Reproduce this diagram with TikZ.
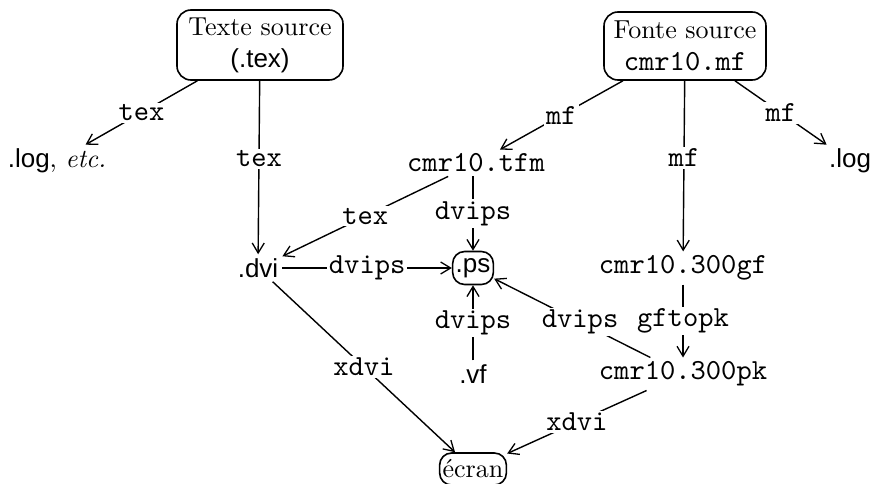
\documentclass[tikz,border=0pt]{standalone}
\usepackage{fontspec}
\setmainfont{lmroman10-regular.otf}[ItalicFont=lmroman10-italic.otf,BoldFont=lmroman10-bold.otf]
\setsansfont{Liberation Sans}
\setmonofont{lmmono10-regular.otf}[Scale=1.12]
\usetikzlibrary{arrows.meta}
\begin{document}
\begin{tikzpicture}[x=1pt,y=-1pt,
  every node/.style={font=\fontsize{26}{30}\selectfont},
  plain/.style={inner sep=4pt},
  boxed/.style={draw,line width=1.6pt,rounded corners=14pt,align=center,inner sep=4pt},
  lbl/.style={fill=white,inner sep=2pt,font=\fontsize{26}{30}\selectfont\ttfamily},
  edge/.style={line width=1.4pt,-{Straight Barb[length=10pt,width=12pt,line width=1.3pt]}}]
\useasboundingbox (0,0) rectangle (880,484);
\node[boxed,minimum width=166pt,minimum height=70pt] (texte) at (260,45) {Texte source\\[2pt]\textsf{(.tex)}};
\node[boxed,minimum width=162pt,minimum height=68pt] (fonte) at (685,46) {Fonte source\\[2pt]\texttt{cmr10.mf}};
\node[plain] (logl) at (57,161) {\textsf{.log}, \textit{etc.}};
\node[plain] (logr) at (850,161) {\textsf{.log}};
\node[plain] (tfm) at (476,163) {\texttt{cmr10.tfm}};
\node[plain] (dvi) at (258,268) {\textsf{.dvi}};
\node[boxed,rounded corners=12pt,inner sep=3pt,minimum height=33pt] (ps) at (473,268) {\textsf{.ps}};
\node[plain] (vf) at (473,374) {\textsf{.vf}};
\node[plain] (gf) at (683,268) {\texttt{cmr10.300gf}};
\node[plain] (pk) at (683,374) {\texttt{cmr10.300pk}};
\node[boxed,rounded corners=12pt,inner sep=3pt,minimum height=32pt] (ecran) at (473,469) {écran};
\draw[edge] (texte) -- node[lbl] {tex} (logl);
\draw[edge] (texte) -- node[lbl,pos=0.45] {tex} (dvi);
\draw[edge] (fonte) -- node[lbl,pos=0.5] {mf} (tfm);
\draw[edge] (fonte) -- node[lbl,pos=0.45] {mf} (gf);
\draw[edge] (fonte) -- node[lbl,pos=0.5] {mf} (logr);
\draw[edge] (tfm) -- node[lbl] {tex} (dvi);
\draw[edge] (tfm.south -| ps.north) -- node[lbl] {dvips} (ps.north);
\draw[edge] (dvi) -- node[lbl] {dvips} (ps);
\draw[edge] (vf) -- node[lbl] {dvips} (ps);
\draw[edge] (pk) -- node[lbl,pos=0.45] {dvips} (ps);
\draw[edge] (gf) -- node[lbl] {gftopk} (pk);
\draw[edge] (dvi) -- node[lbl,pos=0.5] {xdvi} (ecran);
\draw[edge] (pk) -- node[lbl,pos=0.5] {xdvi} (ecran);
\end{tikzpicture}
\end{document}
